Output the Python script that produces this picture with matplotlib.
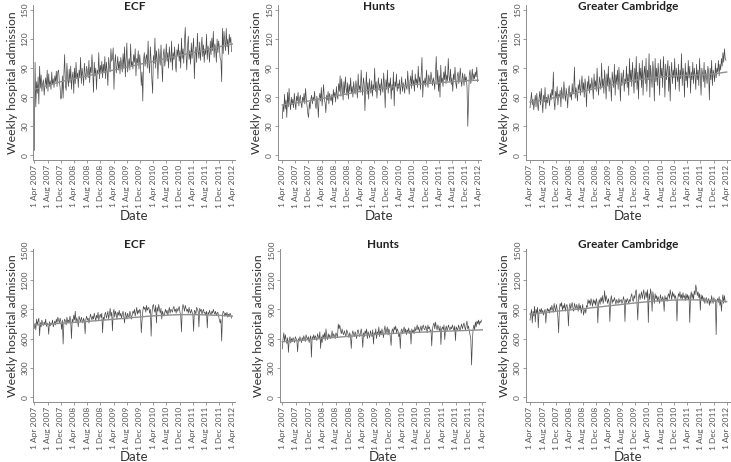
import numpy as np
import pandas as pd
import matplotlib
matplotlib.use('Agg')
import matplotlib.pyplot as plt

plt.rcParams['font.family'] = ['Lato', 'DejaVu Sans']

# weekly admissions, first week starting 1 Apr 2007 (13 weeks per row)
ecf_small = [
    5, 96, 50, 76, 64, 81, 53, 92, 70, 83, 66, 74, 78,
    62, 73, 80, 69, 88, 66, 84, 71, 77, 68, 86, 73, 79,
    70, 82, 76, 87, 71, 86, 88, 76, 70, 58, 60, 82, 59,
    84, 104, 72, 67, 95, 80, 71, 89, 75, 92, 68, 81, 86,
    64, 90, 74, 96, 79, 85, 70, 88, 81, 101, 74, 90, 83,
    72, 95, 84, 78, 92, 86, 80, 98, 75, 91, 85, 104, 88,
    65, 96, 82, 90, 68, 88, 84, 106, 79, 93, 86, 97, 80,
    94, 85, 102, 79, 96, 88, 72, 101, 92, 86, 110, 97, 100,
    111, 68, 95, 104, 85, 92, 102, 88, 97, 84, 101, 93, 86,
    105, 90, 112, 81, 98, 116, 86, 94, 100, 88, 115, 92, 97,
    89, 104, 96, 110, 82, 100, 95, 108, 89, 104, 93, 72, 86,
    56, 98, 106, 92, 100, 104, 90, 118, 95, 85, 112, 97, 78,
    64, 103, 95, 121, 90, 108, 99, 79, 110, 100, 93, 114, 96,
    76, 104, 110, 92, 100, 115, 97, 106, 90, 112, 101, 96, 118,
    88, 106, 99, 112, 94, 86, 109, 103, 115, 97, 108, 90, 121,
    100, 110, 95, 118, 132, 104, 88, 112, 123, 99, 108, 94, 116,
    100, 110, 121, 79, 104, 112, 96, 126, 108, 100, 117, 98, 110,
    122, 102, 114, 96, 110, 104, 125, 99, 113, 107, 96, 118, 104,
    121, 108, 128, 101, 115, 110, 96, 120, 106, 118, 111, 100, 98,
    76, 131, 105, 128, 118, 108, 131, 112, 120, 104, 125, 116, 122,
    107]

hunts_small = [
    38, 52, 45, 63, 48, 57, 39, 65, 50, 69, 55, 47, 60,
    52, 58, 49, 64, 54, 47, 61, 56, 65, 51, 58, 62, 54,
    49, 60, 56, 64, 53, 69, 58, 50, 43, 39, 55, 48, 58,
    62, 53, 60, 57, 66, 52, 48, 61, 55, 39, 59, 64, 56,
    70, 51, 61, 73, 58, 54, 44, 62, 57, 66, 53, 64, 59,
    56, 63, 52, 68, 60, 65, 55, 71, 62, 58, 74, 66, 82,
    61, 79, 68, 57, 76, 64, 81, 70, 62, 75, 58, 73, 66,
    80, 64, 71, 60, 76, 68, 63, 77, 70, 59, 84, 67, 72,
    65, 88, 71, 62, 80, 74, 46, 68, 86, 63, 75, 58, 79,
    70, 64, 77, 61, 73, 68, 90, 66, 76, 59, 71, 80, 67,
    74, 62, 79, 70, 65, 85, 72, 49, 78, 68, 88, 64, 75,
    70, 80, 58, 73, 67, 86, 51, 76, 71, 84, 66, 74, 69,
    78, 63, 72, 81, 66, 75, 70, 64, 79, 71, 68, 87, 74,
    63, 76, 82, 69, 88, 72, 78, 66, 84, 74, 79, 70, 92,
    75, 81, 68, 85, 101, 60, 77, 73, 80, 71, 88, 76, 70,
    83, 78, 74, 86, 79, 72, 80, 76, 68, 84, 102, 73, 88,
    66, 82, 60, 93, 75, 80, 71, 86, 78, 92, 74, 83, 77,
    100, 81, 76, 89, 73, 80, 66, 84, 78, 91, 75, 69, 82,
    86, 74, 80, 90, 77, 71, 85, 79, 72, 84, 76, 81, 70,
    30, 58, 83, 88, 74, 80, 89, 77, 84, 79, 86, 81, 91,
    76]

gc_small = [
    49, 57, 65, 52, 58, 47, 55, 62, 50, 64, 53, 46, 59,
    66, 52, 69, 57, 44, 62, 55, 70, 48, 60, 54, 63, 58,
    51, 64, 57, 68, 62, 86, 55, 47, 66, 59, 71, 52, 63,
    60, 67, 50, 70, 62, 58, 76, 64, 56, 69, 61, 49, 66,
    72, 60, 65, 57, 74, 63, 68, 91, 59, 70, 64, 56, 73,
    67, 78, 62, 71, 82, 65, 75, 60, 79, 70, 50, 76, 68,
    82, 64, 74, 69, 80, 72, 58, 84, 70, 77, 66, 90, 73,
    62, 81, 75, 68, 95, 71, 79, 64, 88, 76, 58, 84, 72,
    92, 66, 80, 74, 56, 86, 78, 70, 94, 62, 83, 75, 88,
    68, 91, 77, 56, 85, 72, 80, 88, 66, 79, 74, 92, 70,
    84, 62, 100, 76, 88, 71, 96, 80, 64, 90, 75, 102, 68,
    86, 58, 95, 79, 90, 70, 98, 62, 84, 92, 74, 100, 66,
    88, 78, 105, 60, 93, 82, 70, 97, 85, 56, 100, 76, 90,
    72, 95, 83, 62, 99, 80, 90, 70, 102, 86, 60, 94, 78,
    88, 98, 66, 92, 56, 84, 96, 74, 88, 80, 100, 68, 90,
    82, 76, 94, 66, 88, 79, 105, 72, 90, 84, 60, 95, 77,
    86, 70, 98, 80, 92, 64, 86, 78, 96, 74, 90, 82, 68,
    94, 78, 88, 72, 100, 80, 62, 90, 84, 76, 96, 70, 88,
    82, 74, 92, 86, 57, 90, 78, 98, 72, 88, 84, 76, 95,
    80, 90, 86, 98, 82, 94, 88, 100, 92, 106, 96, 110, 100,
    98]

ecf_large = [
    705, 760, 690, 800, 740, 780, 810, 630, 765, 720, 790, 750, 735,
    770, 745, 800, 725, 760, 740, 645, 775, 730, 760, 745, 790, 720,
    755, 780, 740, 800, 765, 820, 790, 760, 810, 775, 695, 790, 545,
    760, 800, 780, 740, 820, 770, 790, 760, 830, 780, 600, 800, 770,
    840, 790, 880, 760, 815, 780, 720, 830, 800, 770, 820, 790, 760,
    810, 780, 650, 800, 830, 790, 810, 760, 800, 850, 820, 790, 830,
    800, 860, 820, 780, 840, 810, 870, 790, 830, 850, 815, 860, 660,
    820, 790, 850, 870, 810, 840, 880, 800, 850, 910, 830, 870, 680,
    860, 900, 820, 880, 850, 800, 870, 840, 890, 830, 860, 810, 850,
    880, 820, 760, 870, 840, 800, 860, 830, 820, 880, 850, 800, 840,
    880, 860, 900, 830, 870, 920, 850, 890, 860, 900, 880, 660, 780,
    880, 930, 900, 920, 870, 940, 890, 910, 920, 860, 900, 625, 850,
    930, 950, 900, 870, 940, 760, 920, 880, 950, 900, 860, 910, 800,
    880, 850, 830, 870, 900, 860, 890, 840, 880, 920, 860, 900, 890,
    870, 910, 930, 880, 900, 860, 910, 880, 900, 930, 870, 840, 670,
    900, 950, 920, 880, 940, 910, 880, 900, 860, 920, 880, 860, 900,
    870, 850, 675, 890, 880, 850, 920, 900, 880, 720, 910, 880, 900,
    850, 880, 900, 860, 870, 840, 880, 710, 870, 850, 890, 860, 840,
    880, 860, 900, 870, 850, 880, 840, 860, 870, 830, 790, 760, 800,
    575, 840, 880, 870, 830, 860, 840, 870, 820, 850, 830, 860, 845,
    810]

hunts_large = [
    495, 600, 660, 570, 640, 590, 550, 610, 460, 580, 620, 555, 600,
    570, 610, 590, 560, 620, 600, 580, 465, 600, 575, 620, 590, 560,
    610, 580, 630, 600, 570, 640, 610, 590, 620, 560, 600, 630, 410,
    620, 600, 640, 590, 630, 610, 580, 650, 620, 600, 670, 500, 620,
    560, 640, 610, 660, 580, 700, 620, 590, 650, 610, 640, 600, 620,
    680, 610, 650, 630, 600, 660, 640, 610, 750, 700, 740, 690, 650,
    700, 660, 640, 680, 650, 620, 690, 670, 640, 610, 660, 630, 500,
    640, 680, 650, 620, 670, 640, 600, 680, 690, 650, 620, 660, 700,
    640, 510, 660, 620, 680, 650, 700, 600, 670, 640, 610, 680, 650,
    620, 690, 545, 660, 640, 700, 600, 670, 650, 720, 620, 680, 640,
    700, 660, 610, 690, 730, 650, 680, 720, 640, 700, 670, 610, 530,
    680, 700, 650, 720, 690, 730, 660, 700, 680, 620, 650, 500, 680,
    700, 650, 690, 720, 660, 700, 640, 690, 670, 710, 650, 680, 545,
    700, 660, 690, 650, 720, 680, 700, 740, 690, 720, 660, 700, 730,
    680, 720, 740, 700, 690, 730, 710, 660, 740, 700, 720, 680, 690,
    525, 700, 740, 760, 700, 770, 720, 690, 740, 710, 680, 730, 540,
    700, 720, 690, 740, 590, 700, 730, 680, 710, 740, 700, 690, 720,
    700, 740, 710, 680, 730, 580, 720, 700, 690, 740, 710, 680, 720,
    750, 700, 730, 760, 720, 690, 740, 780, 700, 730, 680, 640, 600,
    330, 560, 700, 740, 690, 770, 720, 780, 750, 790, 740, 780, 760,
    790]

gc_large = [
    790, 850, 900, 760, 880, 830, 930, 770, 900, 860, 920, 710, 880,
    900, 870, 910, 860, 890, 840, 880, 900, 760, 870, 910, 880, 900,
    860, 920, 890, 940, 900, 870, 960, 910, 880, 950, 900, 820, 660,
    900, 960, 930, 970, 890, 940, 910, 960, 880, 930, 950, 900, 730,
    920, 960, 900, 940, 970, 910, 880, 960, 930, 900, 950, 920, 880,
    960, 900, 940, 860, 910, 950, 840, 880, 900, 860, 940, 920, 1000,
    960, 990, 940, 1010, 970, 930, 1000, 960, 990, 940, 1010, 970, 760,
    960, 1000, 950, 1020, 980, 1040, 960, 1000, 1090, 980, 1040, 1000, 960,
    1010, 970, 775, 1000, 1040, 960, 1000, 980, 1020, 990, 950, 1000, 980,
    960, 1010, 970, 990, 1000, 960, 980, 1030, 990, 775, 1000, 970, 1010,
    990, 960, 1000, 980, 1030, 1060, 1000, 980, 1040, 1010, 1080, 1100, 960,
    790, 1020, 1060, 1000, 1040, 1080, 1010, 1060, 1100, 1000, 1050, 1080, 1020,
    1100, 765, 1060, 1000, 1110, 1050, 880, 1080, 1020, 960, 1060, 1010, 1040,
    980, 1030, 1000, 960, 1050, 1010, 980, 1030, 1000, 880, 1040, 1000, 1020,
    980, 1040, 1060, 1010, 1100, 1050, 1000, 1080, 1030, 1060, 1010, 1040, 990,
    780, 1000, 1060, 1030, 1080, 1010, 1050, 1000, 1070, 1020, 1040, 990, 1060,
    1010, 1050, 1000, 1040, 765, 1030, 1080, 1010, 1060, 1000, 1090, 1050, 1150,
    1100, 1040, 1080, 1020, 1060, 890, 1050, 1000, 1040, 980, 1020, 960, 1000,
    1020, 960, 990, 1010, 940, 1000, 960, 1040, 990, 960, 1020, 980, 1000,
    640, 990, 1010, 970, 1030, 940, 1000, 880, 990, 1050, 960, 1040, 980,
    970]

# fitted trend read at each tick date (1 Apr 2007 ... 1 Apr 2012)
ecf_small_trend = [68, 72, 76, 79, 82, 85, 88, 91, 94, 97, 100, 103, 106, 109, 112, 115]
hunts_small_trend = [52, 54, 56, 58.5, 61, 63.5, 66, 68, 70, 71.5, 73, 74, 75, 76, 77, 77.5]
gc_small_trend = [55, 57, 60, 63, 66, 69, 72, 75, 77.5, 79.5, 81, 82, 82.5, 83, 84, 86]
ecf_large_trend = [740, 748, 757, 766, 776, 787, 798, 810, 822, 833, 840, 845, 846, 843, 838, 830]
hunts_large_trend = [568, 578, 590, 602, 613, 624, 634, 643, 651, 658, 664, 670, 675, 680, 685, 690]
gc_large_trend = [850, 865, 880, 893, 905, 920, 935, 950, 965, 978, 988, 995, 998, 995, 990, 980]

titles = ['ECF', 'Hunts', 'Greater Cambridge']
small_ticks = [0, 30, 60, 90, 120, 150]
large_ticks = [0, 300, 600, 900, 1200, 1500]

tick_dates = pd.date_range('2007-04-01', '2012-04-01', freq='4MS')
tick_labels = [f'1 {d:%b %Y}' for d in tick_dates]

W, H = 731, 462
RAW = '#4a4a4a'
TREND = '#8f8f8f'
AXC = '#8c8c8c'
TXT = '#333333'


def draw_panel(fig, box, vals, trend, title, yticks, ylim, title_y, date_y):
    # box: spine x, first tick x, last tick x, right edge, top, bottom (pixels)
    sx, x0, x1, rx, top, bot = box
    ax = fig.add_axes([sx / W, 1 - bot / H, (rx - sx) / W, (bot - top) / H])
    dates = pd.date_range('2007-04-01', periods=len(vals), freq='7D')
    ax.plot(dates, vals, color=RAW, lw=0.5, zorder=2)
    ax.plot(tick_dates, trend, color=TREND, lw=1.0, zorder=3)

    d0, d1 = tick_dates[0], tick_dates[-1]
    per_px = (d1 - d0) / (x1 - x0)
    ax.set_xlim(d0 - per_px * (x0 - sx), d1 + per_px * (rx - x1))
    ax.set_ylim(*ylim)
    ax.set_xticks(tick_dates)
    ax.set_xticklabels(tick_labels, rotation=90)
    ax.set_yticks(yticks)
    ax.set_yticklabels([str(t) for t in yticks], rotation=90, va='center')
    ax.tick_params(labelsize=6.0, labelcolor='#555555', color=AXC, length=2.5, width=0.6, pad=1)
    for s in ['top', 'right']:
        ax.spines[s].set_visible(False)
    for s in ['left', 'bottom']:
        ax.spines[s].set_color(AXC)
        ax.spines[s].set_linewidth(0.7)

    cx = (sx + rx) / 2
    fig.text(cx / W, 1 - title_y / H, title, ha='center', va='center',
             fontsize=8.5, fontweight='bold', color='#222222')
    fig.text(cx / W, 1 - date_y / H, 'Date', ha='center', va='center', fontsize=9.5, color=TXT)
    fig.text((sx - 21) / W, 1 - (top + bot) / 2 / H, 'Weekly hospital admission',
             ha='center', va='center', rotation=90, fontsize=8.8, color=TXT)
    return ax


fig = plt.figure(figsize=(W / 100, H / 100), dpi=100)

top_boxes = [(33.3, 34.3, 232.3, 235.3, 5.2, 160.1),
             (277.7, 282.3, 478.3, 481.3, 5.2, 160.1),
             (525.7, 530.0, 726.7, 729.7, 5.2, 160.1)]
bot_boxes = [(33.3, 34.3, 232.3, 235.3, 248.7, 401.7),
             (280.0, 282.3, 482.3, 485.3, 248.7, 401.7),
             (525.7, 530.0, 726.7, 729.7, 248.7, 401.7)]

small = [(ecf_small, ecf_small_trend), (hunts_small, hunts_small_trend), (gc_small, gc_small_trend)]
large = [(ecf_large, ecf_large_trend), (hunts_large, hunts_large_trend), (gc_large, gc_large_trend)]

for box, (v, t), name in zip(top_boxes, small, titles):
    draw_panel(fig, box, v, t, name, small_ticks, (-5, 155), 6, 216)
for box, (v, t), name in zip(bot_boxes, large, titles):
    draw_panel(fig, box, v, t, name, large_ticks, (-45, 1520), 245, 457)

fig.savefig('out.png', dpi=100)
